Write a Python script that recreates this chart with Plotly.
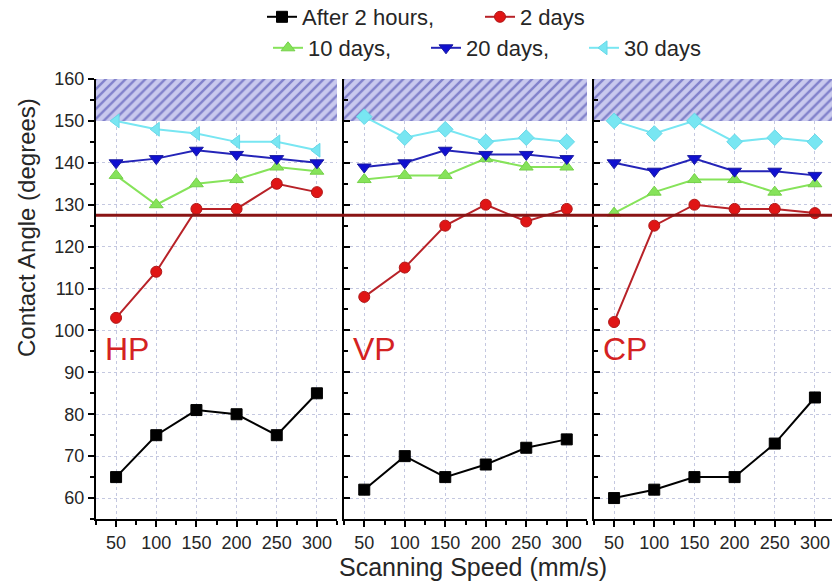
import plotly.graph_objects as go

# ---------------- data ----------------
speeds = [50, 100, 150, 200, 250, 300]
panels = ["HP", "VP", "CP"]
series_names = ["After 2 hours,", "2 days", "10 days,", "20 days,", "30 days"]

hp_2h = [65, 75, 81, 80, 75, 85]
hp_2d = [103, 114, 129, 129, 135, 133]
hp_10d = [137, 130, 135, 136, 139, 138]
hp_20d = [140, 141, 143, 142, 141, 140]
hp_30d = [150, 148, 147, 145, 145, 143]

vp_2h = [62, 70, 65, 68, 72, 74]
vp_2d = [108, 115, 125, 130, 126, 129]
vp_10d = [136, 137, 137, 141, 139, 139]
vp_20d = [139, 140, 143, 142, 142, 141]
vp_30d = [151, 146, 148, 145, 146, 145]

cp_2h = [60, 62, 65, 65, 73, 84]
cp_2d = [102, 125, 130, 129, 129, 128]
cp_10d = [128, 133, 136, 136, 133, 135]
cp_20d = [140, 138, 141, 138, 138, 137]
cp_30d = [150, 147, 150, 145, 146, 145]

superhydrophobic_band = [150, 160]
hydrophobic_threshold = 127.5
y_ticks = [60, 70, 80, 90, 100, 110, 120, 130, 140, 150, 160]

panel_data = [
    [hp_2h, hp_2d, hp_10d, hp_20d, hp_30d],
    [vp_2h, vp_2d, vp_10d, vp_20d, vp_30d],
    [cp_2h, cp_2d, cp_10d, cp_20d, cp_30d],
]

# ---------------- styles ----------------
line_colors = ["#000000", "#b82228", "#86e35a", "#2424b8", "#78e6f2"]
marker_colors = ["#000000", "#e01515", "#86e35a", "#1010d0", "#78e6f2"]
marker_lines = ["#000000", "#b01818", "#74d048", "#1a1aa0", "#66d8e8"]
symbols_by_panel = [
    ["square", "circle", "triangle-up", "triangle-down", "triangle-left"],
    ["square", "circle", "triangle-up", "triangle-down", "diamond"],
    ["square", "circle", "triangle-up", "triangle-down", "diamond"],
]
marker_sizes = [11, 11, 12, 12, 12]
legend_ids = ["legend", "legend", "legend2", "legend2", "legend2"]

W, H = 832, 584
x_domains = [[96 / W, 337 / W], [344 / W, 587 / W], [594 / W, 1.0]]
x_ranges = [[25, 325], [25, 325], [25, 25 + 238 / (241 / 300)]]
y_domain = [1 - 519 / H, 1 - 79 / H]
y_range = [55, 160]

FONT = "Liberation Sans, Arial, sans-serif"
TXT = "#262626"

fig = go.Figure()

for p in range(3):
    base = 2 * p + 1
    xa = "x" if base == 1 else f"x{base}"
    ya = "y" if base == 1 else f"y{base}"
    # hatched band (superhydrophobic region)
    x0, x1 = x_ranges[p]
    b0, b1 = superhydrophobic_band
    fig.add_trace(go.Scatter(
        x=[x0, x1, x1, x0, x0], y=[b0, b0, b1, b1, b0],
        xaxis=xa, yaxis=ya, mode="lines", fill="toself",
        line=dict(width=0, color="rgba(0,0,0,0)"),
        fillcolor="#c9c9ee",
        fillpattern=dict(shape="/", fgcolor="#3a3aa8", bgcolor="#c9c9ee",
                         size=7, solidity=0.35),
        showlegend=False, hoverinfo="skip"))
    for s in range(5):
        fig.add_trace(go.Scatter(
            x=speeds, y=panel_data[p][s], xaxis=xa, yaxis=ya,
            mode="lines+markers", name=series_names[s],
            line=dict(color=line_colors[s], width=2),
            marker=dict(symbol=symbols_by_panel[p][s], size=marker_sizes[s],
                        color=marker_colors[s],
                        line=dict(color=marker_lines[s], width=1)),
            showlegend=(p == 0), legend=legend_ids[s]))

layout = dict(
    width=W, height=H,
    margin=dict(l=0, r=0, t=0, b=0, autoexpand=False),
    paper_bgcolor="white", plot_bgcolor="rgba(0,0,0,0)",
    font=dict(family=FONT, color=TXT, size=16),
    showlegend=True,
    legend=dict(orientation="h", x=262 / W, xanchor="left", y=1 + 4 / H, yanchor="top",
                font=dict(size=22, color=TXT), bgcolor="rgba(0,0,0,0)",
                entrywidth=173, entrywidthmode="pixels", tracegroupgap=0),
    legend2=dict(orientation="h", x=268 / W, xanchor="left", y=1 - 27 / H, yanchor="top",
                 font=dict(size=22, color=TXT), bgcolor="rgba(0,0,0,0)",
                 entrywidth=113, entrywidthmode="pixels", tracegroupgap=0),
)

grid = dict(showgrid=True, gridcolor="#c4c8e0", griddash="dot", gridwidth=1)

for p in range(3):
    base = 2 * p + 1
    top = base + 1
    xk = "xaxis" if base == 1 else f"xaxis{base}"
    yk = "yaxis" if base == 1 else f"yaxis{base}"
    xref = "x" if base == 1 else f"x{base}"
    yref = "y" if base == 1 else f"y{base}"
    layout[xk] = dict(domain=x_domains[p], range=x_ranges[p], anchor=yref, automargin=False,
                      tickmode="array", tickvals=speeds,
                      ticks="outside", ticklen=6, tickwidth=2, tickcolor="black",
                      minor=dict(tickmode="linear", tick0=25, dtick=50, ticks="outside",
                                 ticklen=4, tickwidth=2, tickcolor="black", showgrid=False),
                      showline=True, linecolor="black", linewidth=2,
                      tickfont=dict(size=18, color=TXT), zeroline=False, **grid)
    layout[yk] = dict(domain=y_domain, range=y_range, anchor=xref, automargin=False,
                      tickmode="array", tickvals=y_ticks,
                      ticks="outside" if p == 0 else "inside",
                      ticklen=6, tickwidth=2, tickcolor="black",
                      minor=dict(tickmode="linear", tick0=55, dtick=10,
                                 ticks="outside" if p == 0 else "inside",
                                 ticklen=4, tickwidth=2, tickcolor="black", showgrid=False),
                      showticklabels=(p == 0),
                      showline=True, linecolor="black", linewidth=2,
                      tickfont=dict(size=18, color=TXT), zeroline=False, **grid)
    # mirror axes (top / right) with inward ticks
    layout[f"xaxis{top}"] = dict(overlaying=xref, side="top", anchor=yref, automargin=False,
                                 range=x_ranges[p], tickmode="array", tickvals=speeds,
                                 ticks="inside", ticklen=6, tickwidth=2, tickcolor="black",
                                 minor=dict(tickmode="linear", tick0=25, dtick=50, ticks="inside",
                                            ticklen=4, tickwidth=2, tickcolor="black"),
                                 showticklabels=False, showgrid=False, zeroline=False,
                                 showline=True, linecolor="black", linewidth=2)
    layout[f"yaxis{top}"] = dict(overlaying=yref, side="right", anchor=xref, automargin=False,
                                 range=y_range, tickmode="array", tickvals=y_ticks,
                                 ticks="inside", ticklen=6, tickwidth=2, tickcolor="black",
                                 minor=dict(tickmode="linear", tick0=55, dtick=10, ticks="inside",
                                            ticklen=4, tickwidth=2, tickcolor="black"),
                                 showticklabels=False, showgrid=False, zeroline=False,
                                 showline=True, linecolor="black", linewidth=2)

fig.update_layout(**layout)

# horizontal threshold line spanning all panels
fig.add_shape(type="line", xref="paper", yref="y",
              x0=x_domains[0][0], x1=1.0, y0=hydrophobic_threshold, y1=hydrophobic_threshold,
              line=dict(color="#8a1414", width=3), layer="above")

# panel labels
for p in range(3):
    base = 2 * p + 1
    xref = "x" if base == 1 else f"x{base}"
    yref = "y" if base == 1 else f"y{base}"
    fig.add_annotation(text=panels[p], xref=xref, yref=yref, x=34, y=95.5,
                       xanchor="left", yanchor="middle", showarrow=False,
                       font=dict(size=32, color="#d42222", family=FONT))

fig.add_annotation(text="Contact Angle (degrees)", xref="paper", yref="paper",
                   x=26 / W, y=1 - 228 / H, textangle=-90, showarrow=False,
                   xanchor="center", yanchor="middle",
                   font=dict(size=24, color=TXT, family=FONT))
fig.add_annotation(text="Scanning Speed (mm/s)", xref="paper", yref="paper",
                   x=473 / W, y=1 - 567 / H, showarrow=False,
                   xanchor="center", yanchor="middle",
                   font=dict(size=25, color=TXT, family=FONT))

fig.write_html("out.html", config={"displayModeBar": False},
               post_script="document.body.style.margin='0';")
